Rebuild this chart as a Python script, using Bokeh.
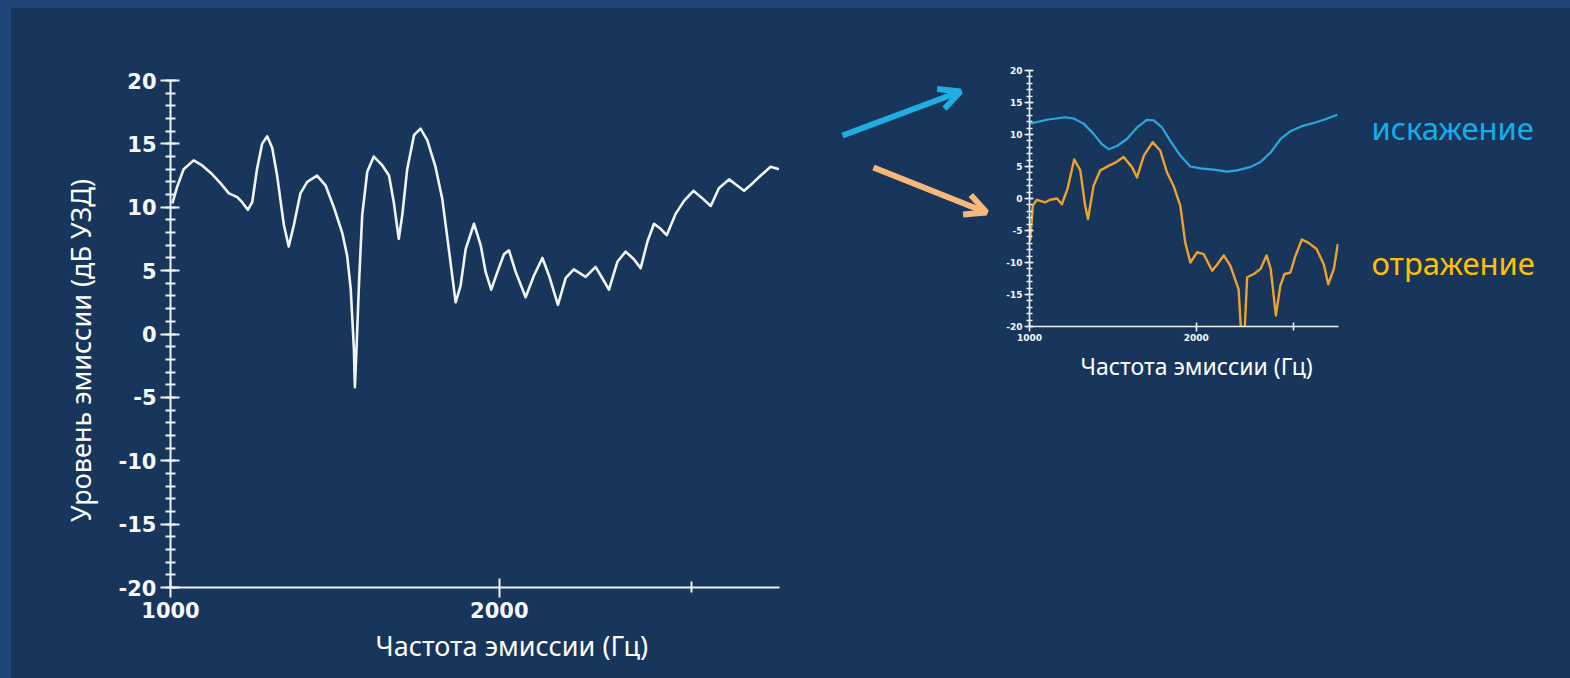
import math

from bokeh.core.properties import value
from bokeh.embed import file_html
from bokeh.layouts import column, row
from bokeh.models import (Arrow, FixedTicker, OpenHead, PrintfTickFormatter,
                          Range1d, SingleIntervalTicker, Spacer, Title)
from bokeh.plotting import figure
from bokeh.resources import INLINE

# ---- data -------------------------------------------------------------
# total emission level (left panel)
level_freq = [1004, 1014, 1028, 1050, 1069, 1092, 1111, 1131, 1151, 1163,
              1177, 1188, 1200, 1213, 1226, 1239, 1252, 1270, 1283, 1297,
              1315, 1334, 1362, 1387, 1411, 1436, 1451, 1462, 1472, 1475,
              1480, 1488, 1498, 1514, 1535, 1563, 1585, 1601, 1618, 1630,
              1647, 1671, 1694, 1718, 1748, 1773, 1798, 1824, 1843, 1863,
              1896, 1923, 1943, 1966, 1992, 2020, 2041, 2070, 2114, 2151,
              2190, 2221, 2263, 2300, 2340, 2399, 2450, 2485, 2520, 2565,
              2610, 2656, 2694, 2733, 2771, 2810, 2846, 2901, 2952, 3011,
              3069, 3123, 3177, 3246, 3304, 3350, 3411, 3470, 3543, 3606]
level_db = [10.3, 11.6, 13.0, 13.7, 13.3, 12.6, 11.9, 11.1, 10.8, 10.4,
            9.8, 10.4, 13.0, 15.0, 15.6, 14.7, 12.5, 8.6, 6.9, 8.6,
            11.1, 12.0, 12.5, 11.7, 10.0, 8.0, 6.2, 3.6, -1.2, -4.2,
            -1.2, 4.1, 9.4, 12.8, 14.0, 13.3, 12.5, 10.4, 7.5, 9.4,
            13.0, 15.7, 16.2, 15.3, 13.2, 10.7, 6.7, 2.5, 3.8, 6.7,
            8.7, 7.0, 4.9, 3.5, 4.9, 6.3, 6.6, 4.9, 2.9, 4.6,
            6.0, 4.6, 2.3, 4.4, 5.1, 4.5, 5.3, 4.4, 3.5, 5.7,
            6.5, 5.9, 5.2, 7.3, 8.7, 8.3, 7.8, 9.5, 10.5, 11.3,
            10.7, 10.1, 11.5, 12.2, 11.7, 11.3, 11.9, 12.5, 13.2, 13.0]

# distortion component (right panel)
distortion_freq = [1003, 1075, 1160, 1201, 1252, 1305, 1351, 1389, 1438, 1499,
                   1563, 1629, 1675, 1734, 1795, 1871, 1951, 2034, 2148, 2272,
                   2369, 2502, 2611, 2724, 2838, 2955, 3100, 3256, 3397, 3594]
distortion_db = [11.7, 12.3, 12.7, 12.5, 11.7, 10.1, 8.5, 7.7, 8.2, 9.3,
                 11.1, 12.3, 12.2, 11.1, 9.0, 6.7, 5.0, 4.7, 4.5, 4.2,
                 4.4, 4.9, 5.7, 7.2, 9.3, 10.5, 11.3, 11.8, 12.3, 13.1]

# reflection component (right panel)
reflection_freq = [1003, 1014, 1031, 1067, 1090, 1121, 1144, 1171, 1204, 1235,
                   1260, 1275, 1305, 1342, 1389, 1428, 1478, 1531, 1563, 1608,
                   1668, 1721, 1770, 1819, 1871, 1910, 1951, 2007, 2062, 2136,
                   2181, 2241, 2303, 2384, 2428, 2470, 2540, 2611, 2677, 2724,
                   2783, 2834, 2884, 2955, 3018, 3100, 3183, 3296, 3397, 3459,
                   3541, 3600]
reflection_db = [-6.6, -1.1, -0.2, -0.6, -0.2, 0.0, -0.9, 1.5, 6.1, 4.4,
                 -1.1, -3.2, 2.0, 4.4, 5.1, 5.6, 6.5, 4.9, 3.3, 6.7,
                 8.8, 7.5, 4.1, 2.0, -1.1, -6.9, -10.0, -8.4, -8.7, -11.3,
                 -10.3, -8.9, -10.5, -14.2, -26.0, -12.3, -11.8, -11.0, -8.9, -11.0,
                 -18.3, -13.7, -11.8, -11.6, -9.0, -6.4, -6.9, -7.9, -10.3, -13.4,
                 -11.0, -7.1]

freq_range = (1000, 3610)
level_range = (-20, 20)
freq_major_ticks = [1000, 2000]
freq_minor_ticks = [3000]
level_tick_step = 5

series_names = ["искажение", "отражение"]
x_title = "Частота эмиссии (Гц)"
y_title = "Уровень эмиссии (дБ УЗД)"

# ---- styling ----------------------------------------------------------
PAGE = "#18365c"
EDGE = "#1f477a"
AXIS = "#eef2f6"
CURVE = "#f2f4f6"
BLUE_LINE = "#29a9da"
ORANGE_LINE = "#eba32b"
BLUE_TEXT = "#10b0ee"
GOLD_TEXT = "#ffc000"
BLUE_ARROW = "#20ade0"
PEACH_ARROW = "#f7b87c"
TEXT_FONT = "Noto Sans"
TICK_FONT = "DejaVu Sans"
H = 670
PANEL_CSS = {"background-color": PAGE}


def bare(width, x0, x1):
    """Axis-free panel whose coordinates are page pixels (y grows downward)."""
    p = figure(width=width, height=H, x_range=Range1d(x0, x1),
               y_range=Range1d(678, 8), output_backend="svg",
               toolbar_location=None, title=None, frame_align=False,
               x_axis_location=None, y_axis_location=None, min_border=0,
               background_fill_color=PAGE, border_fill_color=PAGE,
               outline_line_color=None, styles=PANEL_CSS)
    p.grid.visible = False
    return p


def chart(width, borders, tick_px, tick_len, line_w):
    left, right, top, bottom = borders
    p = figure(width=width, height=H, x_axis_type="log",
               x_range=Range1d(*freq_range), y_range=Range1d(*level_range),
               output_backend="svg", toolbar_location=None, title=None,
               frame_align=False,
               min_border_left=left, min_border_right=right,
               min_border_top=top, min_border_bottom=bottom,
               background_fill_color=PAGE, border_fill_color=PAGE,
               outline_line_color=None, styles=PANEL_CSS)
    p.grid.visible = False
    maj_in, maj_out, min_in, min_out, x_min_in, x_min_out, standoff = tick_len

    xa = p.xaxis[0]
    xa.ticker = FixedTicker(ticks=freq_major_ticks, minor_ticks=freq_minor_ticks)
    xa.major_tick_in = maj_in
    xa.major_tick_out = maj_out
    xa.minor_tick_in = x_min_in
    xa.minor_tick_out = x_min_out

    ya = p.yaxis[0]
    ya.ticker = SingleIntervalTicker(interval=level_tick_step, num_minor_ticks=5)
    ya.major_tick_in = maj_in
    ya.major_tick_out = maj_out
    ya.minor_tick_in = min_in
    ya.minor_tick_out = min_out

    for ax in (xa, ya):
        ax.formatter = PrintfTickFormatter(format="%d")
        ax.axis_line_color = AXIS
        ax.axis_line_width = line_w
        ax.major_tick_line_color = AXIS
        ax.major_tick_line_width = line_w
        ax.minor_tick_line_color = AXIS
        ax.minor_tick_line_width = line_w
        ax.major_label_text_color = "#f6f8fa"
        ax.major_label_text_font = TICK_FONT
        ax.major_label_text_font_style = "bold"
        ax.major_label_text_font_size = f"{tick_px}px"
        ax.major_label_standoff = standoff
    return p


# ---- left panel: emission level --------------------------------------
p_ylab = bare(89, 11, 100)
p_ylab.text(x=[80], y=[350], text=[y_title], angle=math.pi / 2,
            text_align="center", text_baseline="middle",
            text_color="white", text_font=value(TEXT_FONT),
            text_font_size="27px")

p_left = chart(730, (70, 51, 72, 91), 21, (9, 10, 5, 5, 6, 5, 4), 2)
p_left.line(level_freq, level_db, line_color=CURVE, line_width=2.6,
            line_join="round")
p_left.add_layout(Title(text=x_title, align="left", offset=205, standoff=8,
                        text_font=TEXT_FONT, text_font_style="normal",
                        text_font_size="27px", text_color="white"), "below")

# ---- arrows between the panels ---------------------------------------
p_mid = bare(165, 830, 995)
p_mid.add_layout(Arrow(end=OpenHead(size=21, line_width=6, line_color=BLUE_ARROW),
                       x_start=842, y_start=135, x_end=960, y_end=91,
                       line_width=6, line_color=BLUE_ARROW))
p_mid.add_layout(Arrow(end=OpenHead(size=21, line_width=6, line_color=PEACH_ARROW),
                       x_start=873, y_start=167, x_end=986, y_end=212,
                       line_width=6, line_color=PEACH_ARROW))

# ---- right panel: the two components ---------------------------------
p_small = chart(350, (34, 7, 62, 352), 9, (4, 5, 3, 3, 4, 4, 2), 1.6)
p_small.line(distortion_freq, distortion_db, line_color=BLUE_LINE,
             line_width=2.2, line_join="round")
p_small.line(reflection_freq, reflection_db, line_color=ORANGE_LINE,
             line_width=2.4, line_join="round")
p_small.add_layout(Title(text=x_title, align="left", offset=51, standoff=8,
                         text_font=TEXT_FONT, text_font_style="normal",
                         text_font_size="23px", text_color="white"), "below")

# ---- component names --------------------------------------------------
p_tags = bare(225, 1345, 1570)
p_tags.text(x=[1371, 1371], y=[127, 262], text=series_names,
            text_color=[BLUE_TEXT, GOLD_TEXT], text_font=value(TEXT_FONT),
            text_font_size="31px", text_align="left",
            text_baseline="alphabetic")

top_edge = Spacer(width=1570, height=8, styles={"background-color": EDGE})
left_edge = Spacer(width=11, height=H, styles={"background-color": EDGE})
body = row(left_edge, p_ylab, p_left, p_mid, p_small, p_tags, styles=PANEL_CSS)
page = column(top_edge, body, styles=PANEL_CSS)

open("out.html", "w").write(file_html(page, INLINE))
